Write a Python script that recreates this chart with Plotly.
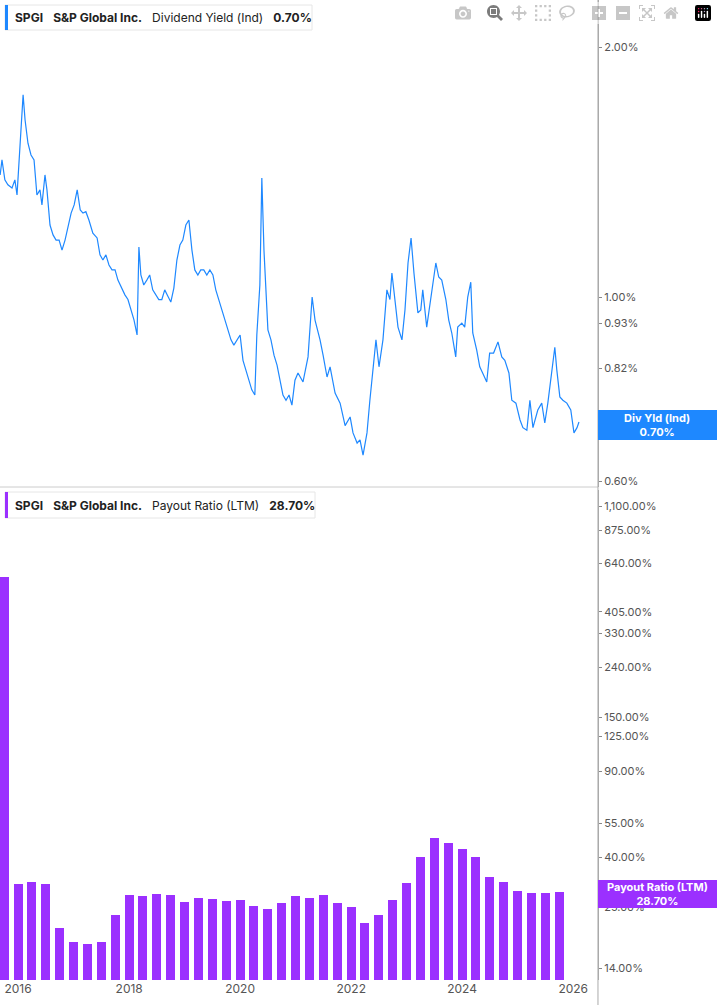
import plotly.graph_objects as go

yield_dates = ["2015-09-05","2015-09-17","2015-10-06","2015-10-26","2015-11-22","2015-12-11","2015-12-25","2016-01-14","2016-02-03","2016-02-16","2016-03-06","2016-03-26","2016-04-15","2016-05-04","2016-05-24","2016-06-06","2016-06-26","2016-07-09","2016-07-29","2016-08-18","2016-09-07","2016-09-27","2016-10-16","2016-11-05","2016-11-25","2016-12-15","2017-01-04","2017-01-24","2017-02-13","2017-03-03","2017-03-22","2017-04-11","2017-05-07","2017-06-04","2017-06-23","2017-07-12","2017-08-01","2017-08-21","2017-09-10","2017-09-30","2017-10-19","2017-11-15","2017-12-04","2017-12-24","2018-01-13","2018-02-02","2018-02-22","2018-03-06","2018-03-19","2018-04-07","2018-04-27","2018-05-16","2018-06-05","2018-06-25","2018-07-15","2018-08-04","2018-08-23","2018-09-12","2018-10-02","2018-10-22","2018-11-11","2018-12-01","2018-12-20","2019-01-09","2019-01-29","2019-02-18","2019-03-09","2019-03-29","2019-04-17","2019-05-07","2019-05-27","2019-06-16","2019-07-06","2019-07-25","2019-08-14","2019-09-03","2019-09-23","2019-10-13","2019-11-02","2019-11-21","2019-12-11","2020-01-01","2020-01-20","2020-02-09","2020-02-28","2020-03-18","2020-04-07","2020-04-20","2020-05-10","2020-05-23","2020-06-06","2020-06-19","2020-07-02","2020-07-22","2020-08-11","2020-08-31","2020-09-19","2020-10-09","2020-10-29","2020-11-18","2020-12-07","2020-12-27","2021-01-16","2021-02-18","2021-03-23","2021-04-19","2021-05-08","2021-06-10","2021-06-30","2021-07-26","2021-08-15","2021-09-17","2021-10-20","2021-11-22","2021-12-25","2022-01-13","2022-02-09","2022-02-28","2022-03-20","2022-04-15","2022-05-04","2022-05-24","2022-06-13","2022-07-03","2022-07-29","2022-08-24","2022-09-13","2022-09-26","2022-10-16","2022-11-05","2022-12-01","2022-12-21","2023-01-10","2023-01-30","2023-02-18","2023-03-16","2023-04-04","2023-04-17","2023-05-13","2023-06-02","2023-06-22","2023-07-12","2023-07-31","2023-08-20","2023-09-16","2023-10-05","2023-10-25","2023-11-20","2023-12-03","2023-12-30","2024-01-18","2024-02-07","2024-02-27","2024-03-11","2024-04-06","2024-04-26","2024-05-15","2024-06-11","2024-06-30","2024-07-26","2024-08-24","2024-09-18","2024-10-08","2024-11-04","2024-11-23","2024-12-20","2025-01-16","2025-02-04","2025-03-02","2025-03-22","2025-04-11","2025-05-13","2025-06-08","2025-06-28","2025-07-18","2025-08-07","2025-09-02","2025-09-15","2025-10-05","2025-10-25","2025-11-20","2025-12-16","2026-01-06","2026-01-26","2026-02-08"]
yield_values = [1.403,1.463,1.384,1.365,1.353,1.384,1.327,1.546,1.752,1.634,1.532,1.483,1.463,1.327,1.346,1.291,1.403,1.346,1.221,1.188,1.171,1.171,1.139,1.171,1.221,1.262,1.291,1.346,1.273,1.262,1.267,1.238,1.194,1.178,1.124,1.108,1.124,1.093,1.078,1.078,1.048,1.020,1.006,0.993,0.965,0.938,0.900,1.149,1.063,1.034,1.048,1.063,1.020,1.006,0.993,0.993,1.020,1.003,0.986,1.025,1.108,1.155,1.171,1.221,1.238,1.139,1.078,1.063,1.078,1.078,1.063,1.078,1.063,1.020,0.993,0.965,0.938,0.913,0.888,0.875,0.888,0.900,0.839,0.817,0.794,0.773,0.762,0.900,1.034,1.391,1.139,1.006,0.913,0.888,0.851,0.828,0.794,0.762,0.751,0.762,0.741,0.794,0.810,0.790,0.847,1.000,0.938,0.888,0.851,0.801,0.824,0.766,0.745,0.700,0.717,0.686,0.667,0.673,0.645,0.686,0.751,0.810,0.888,0.824,0.888,1.020,0.993,1.069,0.993,0.920,0.888,0.965,1.099,1.178,1.069,0.957,0.965,1.020,0.920,0.973,1.040,1.099,1.057,1.048,0.993,0.938,0.905,0.847,0.920,0.930,0.920,1.000,1.042,0.905,0.863,0.824,0.810,0.790,0.856,0.856,0.883,0.847,0.839,0.810,0.751,0.745,0.711,0.696,0.691,0.751,0.696,0.731,0.745,0.705,0.745,0.794,0.870,0.817,0.758,0.751,0.745,0.731,0.686,0.696,0.707]

payout_dates = ["2015-10-01","2016-01-01","2016-04-01","2016-07-01","2016-10-01","2017-01-01","2017-04-01","2017-07-01","2017-10-01","2018-01-01","2018-04-01","2018-07-01","2018-10-01","2019-01-01","2019-04-01","2019-07-01","2019-10-01","2020-01-01","2020-04-01","2020-07-01","2020-10-01","2021-01-01","2021-04-01","2021-07-01","2021-10-01","2022-01-01","2022-04-01","2022-07-01","2022-10-01","2023-01-01","2023-04-01","2023-07-01","2023-10-01","2024-01-01","2024-04-01","2024-07-01","2024-10-01","2025-01-01","2025-04-01","2025-07-01","2025-10-01"]
payout_values = [563,31,31.5,31,20.5,18,17.7,17.9,23.2,28,27.8,28.2,28,26.3,27.3,27,26.4,26.6,25.2,24.6,26,27.6,27.3,28,25.9,25.1,21.5,23.1,26.8,31.3,40,48,45.8,43.2,40,33.2,31.5,29.2,28.5,28.5,28.7]

top_ticks = [2.0, 1.0, 0.93, 0.82, 0.71, 0.60]
bot_ticks = [1100, 875, 640, 405, 330, 240, 150, 125, 90, 55, 40, 25, 14]
year_ticks = ["2016-01-01","2018-01-01","2020-01-01","2022-01-01","2024-01-01","2026-01-01"]
year_labels = ["2016","2018","2020","2022","2024","2026"]

BLUE = "#1E88FF"
PURPLE = "#9B30FF"
GRAY = "#555"
FONT = "Inter"
xr = ["2015-09-04", "2026-06-13"]

fig = go.Figure()
fig.add_trace(go.Scatter(x=yield_dates, y=yield_values, mode="lines",
                         line=dict(color=BLUE, width=1.2), xaxis="x", yaxis="y"))
fig.add_trace(go.Bar(x=payout_dates, y=payout_values, marker=dict(color=PURPLE, line=dict(width=0)),
                     width=59*86400000, xaxis="x2", yaxis="y2"))

def fmt(v):
    return f"{v:,.2f}%"

fig.update_layout(
    width=717, height=1005, margin=dict(l=0, r=0, t=0, b=0),
    paper_bgcolor="white", plot_bgcolor="white", showlegend=False,
    font=dict(family=FONT, size=11, color=GRAY),
    xaxis=dict(domain=[0, 0.834], range=xr, type="date", showticklabels=False,
               showgrid=False, zeroline=False, anchor="y"),
    yaxis=dict(domain=[0.5154, 1], type="log", range=[-0.2289, 0.3578], side="right",
               tickvals=top_ticks, ticktext=[fmt(v) for v in top_ticks], ticks="outside",
               ticklen=3, tickcolor="#888", showgrid=False, zeroline=False,
               showline=True, linecolor="#aaa", anchor="x"),
    xaxis2=dict(domain=[0, 0.834], range=xr, type="date", tickvals=year_ticks,
                ticktext=year_labels, ticks="", showgrid=False, zeroline=False,
                anchor="y2", tickfont=dict(size=12, color=GRAY)),
    yaxis2=dict(domain=[0.0249, 0.5124], type="log", range=[1.0988, 3.107], side="right",
                tickvals=bot_ticks, ticktext=[fmt(v) for v in bot_ticks], ticks="outside",
                ticklen=3, tickcolor="#888", showgrid=False, zeroline=False,
                showline=True, linecolor="#aaa", anchor="x2"),
    bargap=0,
)

shapes = [
    dict(type="line", xref="paper", yref="paper", x0=0, x1=0.834, y0=1-487/1005, y1=1-487/1005,
         line=dict(color="#ccc", width=1)),
    dict(type="line", xref="paper", yref="paper", x0=0.834, x1=0.834, y0=0, y1=1,
         line=dict(color="#aaa", width=1)),
    dict(type="rect", xref="paper", yref="paper", x0=5/717, x1=312/717, y0=1-30/1005, y1=1-5/1005,
         line=dict(color="#e6e6e6", width=1), fillcolor="white"),
    dict(type="rect", xref="paper", yref="paper", x0=5/717, x1=8/717, y0=1-30/1005, y1=1-5/1005,
         line=dict(width=0), fillcolor=BLUE),
    dict(type="rect", xref="paper", yref="paper", x0=5/717, x1=315/717, y0=1-518/1005, y1=1-492/1005,
         line=dict(color="#e6e6e6", width=1), fillcolor="white"),
    dict(type="rect", xref="paper", yref="paper", x0=5/717, x1=8/717, y0=1-518/1005, y1=1-492/1005,
         line=dict(width=0), fillcolor=PURPLE),
    dict(type="rect", xref="paper", yref="paper", x0=598/717, x1=1, y0=1-440/1005, y1=1-410/1005,
         line=dict(width=0), fillcolor=BLUE),
    dict(type="rect", xref="paper", yref="paper", x0=598/717, x1=1, y0=1-908/1005, y1=1-880/1005,
         line=dict(width=0), fillcolor=PURPLE),
]
fig.update_layout(shapes=shapes)

ann = [
    dict(text="<b>SPGI</b>   <b>S&P Global Inc.</b>   Dividend Yield (Ind)   <b>0.70%</b>",
         x=13/717, y=1-17.5/1005, xanchor="left", yanchor="middle"),
    dict(text="<b>SPGI</b>   <b>S&P Global Inc.</b>   Payout Ratio (LTM)   <b>28.70%</b>",
         x=13/717, y=1-505/1005, xanchor="left", yanchor="middle"),
]
for a in ann:
    fig.add_annotation(xref="paper", yref="paper", showarrow=False,
                       font=dict(family=FONT, size=12, color="#222"), **a)
fig.add_annotation(xref="paper", yref="paper", x=657/717, y=1-425/1005, showarrow=False,
                   text="<b>Div Yld (Ind)<br>0.70%</b>", font=dict(family=FONT, size=11, color="white"),
                   xanchor="center", yanchor="middle")
fig.add_annotation(xref="paper", yref="paper", x=657/717, y=1-894/1005, showarrow=False,
                   text="<b>Payout Ratio (LTM)<br>28.70%</b>", font=dict(family=FONT, size=11, color="white"),
                   xanchor="center", yanchor="middle")

fig.write_html("out.html", post_script="document.body.style.margin='0';document.body.style.overflow='hidden';")
